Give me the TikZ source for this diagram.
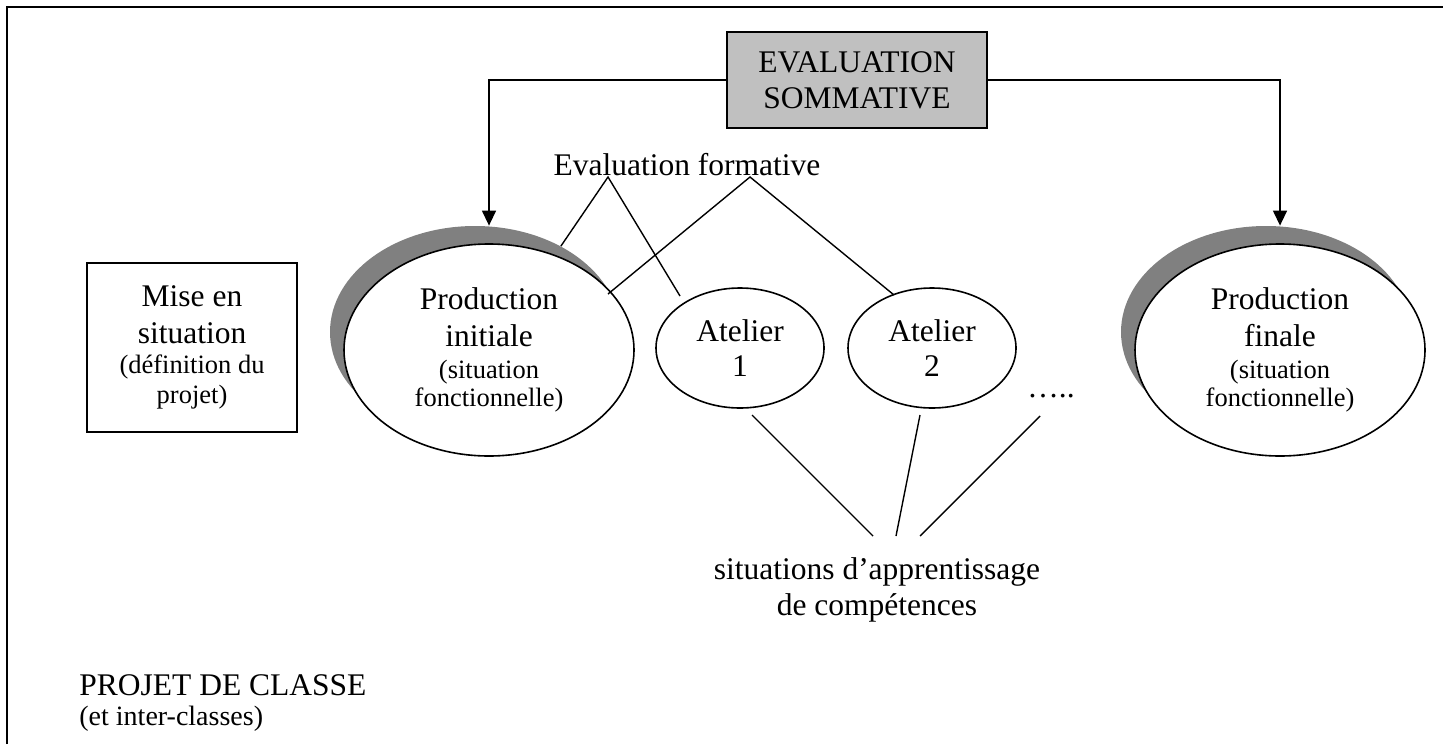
\documentclass[tikz,border=0pt]{standalone}
\usepackage{fontspec}
\setmainfont{Liberation Serif}
\usepackage{xcolor}
\usetikzlibrary{shapes.geometric,arrows.meta}

\definecolor{ombregris}{HTML}{808080}
\definecolor{boitegris}{HTML}{C0C0C0}
\newcommand{\petit}{\fontsize{13.25}{14}\selectfont}

\begin{document}
\begin{tikzpicture}[x=0.5pt,y=-0.5pt,font=\fontsize{15.75}{18.5}\selectfont]
\tikzstyle{every node}=[inner sep=0pt]
\tikzstyle{boite}=[draw,line width=0.9pt,align=center]
\tikzstyle{bulle}=[ellipse,draw,fill=white,line width=0.8pt,align=center]
\tikzstyle{grande}=[minimum width=145pt,minimum height=106pt]
\tikzstyle{petite}=[minimum width=84pt,minimum height=60pt]
\tikzstyle{ombre}=[ellipse,fill=ombregris,grande]
\tikzstyle{trait}=[line width=0.7pt]
\tikzstyle{fleche}=[line width=0.7pt,-{Triangle[length=7.5pt,width=7pt]}]

\useasboundingbox (0,0) rectangle (1443,744);
\draw[line width=1pt] (7,744) -- (7,7) -- (1443,7);

\node[boite,fill=boitegris,minimum width=130pt,minimum height=48pt,
  font=\fontsize{15.75}{18}\selectfont] (sommative) at (857,80) {EVALUATION\\SOMMATIVE};
\node[boite,minimum width=105pt,minimum height=84.5pt] (mise) at (192,347.5)
  {Mise en\\situation\\[-3.5pt]{\petit (définition du}\\[-3.5pt]{\petit projet)}};

\node[ombre] (prodis) at (475,332) {};
\node[bulle,grande] (prodi) at (489,350)
  {Production\\initiale\\[-2.5pt]{\petit (situation}\\[-4.5pt]{\petit fonctionnelle)}};
\node[bulle,petite] (at1) at (740,348) {Atelier\\[-1pt]1};
\node[bulle,petite] (at2) at (932,348) {Atelier\\[-1pt]2};
\node[anchor=base west] (suite) at (1027,397) {…..};
\node[ombre] (prodfs) at (1266,332) {};
\node[bulle,grande] (prodf) at (1280,350)
  {Production\\finale\\[-2.5pt]{\petit (situation}\\[-4.5pt]{\petit fonctionnelle)}};

\node[anchor=base] (formative) at (687,175) {Evaluation formative};
\node[align=center] (apprent) at (877,590) {situations d’apprentissage\\[-0.5pt]de compétences};
\node[align=left,anchor=west] (projet) at (79,703)
  {PROJET DE CLASSE\\[-3.5pt]{\fontsize{14}{14}\selectfont (et inter-classes)}};

\coordinate (fa) at (608,177);
\coordinate (fb) at (750,177);
\coordinate (fa2) at (680,296);
\coordinate (fb1) at (608,294);
\coordinate (fb2) at (894,295);
\coordinate (b1) at (752,415);
\coordinate (b2) at (920,415);
\coordinate (b3) at (1040,416);
\coordinate (c1) at (873,536);
\coordinate (c2) at (896,536);
\coordinate (c3) at (920,536);

\draw[fleche] (sommative.west) -| (prodi |- prodis.north);
\draw[fleche] (sommative.east) -| (prodf |- prodfs.north);
\draw[trait] (prodis.45) -- (fa) -- (fa2);
\draw[trait] (fb1) -- (fb) -- (fb2);
\draw[trait] (b1) -- (c1);
\draw[trait] (b2) -- (c2);
\draw[trait] (b3) -- (c3);
\end{tikzpicture}
\end{document}
